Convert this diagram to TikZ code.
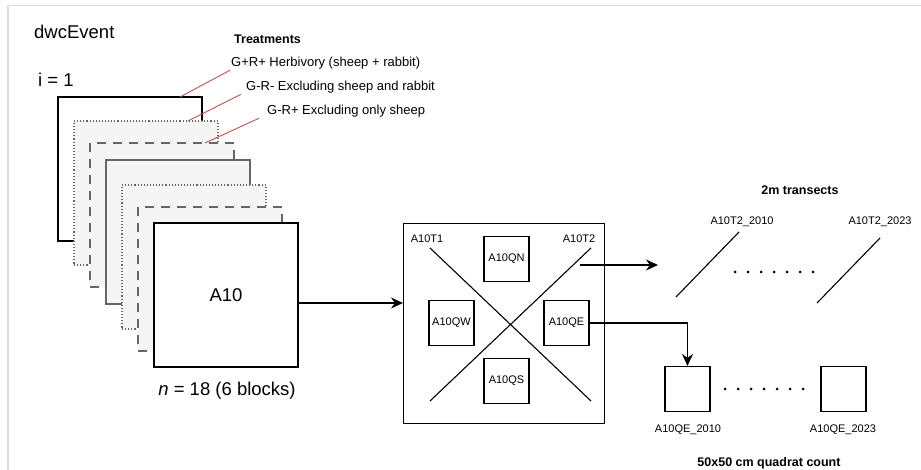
\documentclass[tikz,border=0pt]{standalone}
\usepackage{fontspec}
\setmainfont{Liberation Sans}
\usetikzlibrary{arrows.meta}
\definecolor{leadred}{HTML}{B85450}
\definecolor{boxgray}{HTML}{666666}
\definecolor{fillgray}{HTML}{F5F5F5}
\definecolor{framegray}{HTML}{DEDEDA}

\begin{document}
\begin{tikzpicture}[
  x=1pt, y=-1pt,
  blk/.style={minimum width=144pt, minimum height=144pt, inner sep=0pt, outer sep=0pt, anchor=north west, line width=1.1pt},
  blksolid/.style={blk, draw=black, fill=white},
  blkgray/.style={blk, draw=boxgray, fill=fillgray},
  blkdot/.style={blk, draw=boxgray, fill=fillgray, dotted},
  blkdash/.style={blk, draw=boxgray, fill=fillgray, dash pattern=on 9pt off 7pt},
  quad/.style={draw, line width=1.1pt, minimum size=45pt, inner sep=0pt, font=\fontsize{11}{13}\selectfont},
  lbl/.style={font=\fontsize{11}{13}\selectfont, inner sep=1pt},
  big/.style={font=\fontsize{18.5}{22}\selectfont, inner sep=1pt},
  trt/.style={font=\fontsize{13}{15}\selectfont, anchor=west, inner sep=1pt},
  head/.style={font=\fontsize{12.5}{15}\selectfont\bfseries, inner sep=1pt},
  lead/.style={draw=leadred, line width=0.9pt},
  arr/.style={-{Stealth[length=12pt,width=11pt]}, line width=1.3pt},
  tline/.style={line width=1.1pt},
  dots/.style={line width=3pt, line cap=round, dash pattern=on 0pt off 13pt}
]
\useasboundingbox (0,0) rectangle (921,470);
\draw[framegray, line width=1.5pt] (8,470) -- (8,5.5) -- (921,5.5);

% --- titles ---
\node[big, anchor=west] (event) at (33,32) {dwcEvent};
\node[big, anchor=west] (iter) at (37,80) {i = 1};

% --- stack of plots ---
\node[blksolid] (r1) at (58,97) {};
\node[blkdot]   (r2) at (74,121) {};
\node[blkdash]  (r3) at (90,143) {};
\node[blkgray]  (r4) at (106,160) {};
\node[blkdot]   (r5) at (122,185) {};
\node[blkdash]  (r6) at (138,207) {};
\node[blksolid, big] (r7) at (154,223) {A10};
\node[big] (count) at (227,391) {\textit{n} = 18 (6 blocks)};

% --- treatments ---
\node[head, anchor=west] (trt) at (233,39) {Treatments};
\node[trt] (trt1) at (230,63) {G+R+ Herbivory (sheep + rabbit)};
\node[trt] (trt2) at (245,87) {G-R- Excluding sheep and rabbit};
\node[trt] (trt3) at (266,111) {G-R+ Excluding only sheep};
\coordinate (p1) at (180,97);
\coordinate (p2) at (188,121);
\coordinate (p3) at (205,143);
\draw[lead] (p1) -- (trt1.south west);
\draw[lead] (p2) -- ([xshift=-4pt]trt2.south west);
\draw[lead] (p3) -- ([xshift=-7pt]trt3.south west);

% --- plot A10 with transects and quadrats ---
\node[draw, line width=1.1pt, minimum width=201pt, minimum height=200pt, inner sep=0pt, anchor=north west] (plot) at (403,223) {};
\node[lbl] (T1) at (427,239) {A10T1};
\node[lbl] (T2) at (579,239) {A10T2};
\coordinate (t1a) at (430,248);
\coordinate (t1b) at (591,401);
\coordinate (t2a) at (430,401);
\coordinate (t2b) at (591,248);
\draw[tline] (t1a) -- (t1b);
\draw[tline] (t2a) -- (t2b);
\node[quad, fill=white] (QN) at (506.5,259) {A10QN};
\node[quad, fill=white] (QW) at (451.5,323) {A10QW};
\node[quad, fill=white] (QE) at (566.5,323) {A10QE};
\node[quad, fill=white] (QS) at (506.5,381) {A10QS};

\draw[arr] ([yshift=-8pt]r7.east) -- ([yshift=-8pt]r7.east -| plot.west);

% --- transects over years ---
\node[head] (trhead) at (800,190) {2m transects};
\coordinate (trs) at (580,265);
\coordinate (tre) at (658,265);
\draw[arr] (trs) -- (tre);
\coordinate (ta1) at (676,297);
\coordinate (ta2) at (739,232);
\coordinate (tb1) at (817,303);
\coordinate (tb2) at (880,238);
\draw[tline] (ta1) -- (ta2);
\draw[tline] (tb1) -- (tb2);
\node[lbl] (tA) at (742,222) {A10T2\_2010};
\node[lbl] (tB) at (880,222) {A10T2\_2023};
\coordinate (td1) at (735,272);
\coordinate (td2) at (814,272);
\draw[dots] (td1) -- (td2);

% --- quadrat counts over years ---
\node[quad] (qA) at (687.5,389) {};
\node[quad] (qB) at (843.5,389) {};
\draw[arr] (QE.east) -| (qA.north);
\coordinate (qd1) at (725,389);
\coordinate (qd2) at (804,389);
\draw[dots] (qd1) -- (qd2);
\node[lbl] (qAl) at (688,430) {A10QE\_2010};
\node[lbl] (qBl) at (843,430) {A10QE\_2023};
\node[head] (qhead) at (769,463) {50x50 cm quadrat count};

\end{tikzpicture}
\end{document}
